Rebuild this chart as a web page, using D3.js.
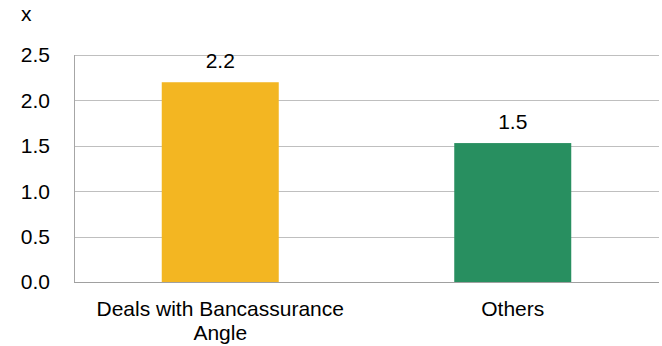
<!DOCTYPE html>
<html>
<head>
<meta charset="utf-8">
<script src="https://cdn.jsdelivr.net/npm/d3@7"></script>
<style>
  body { margin: 0; background: #fff; }
  svg { display: block; font-family: "Liberation Sans", Arial, sans-serif; }
</style>
</head>
<body>
<div id="chart"></div>
<script>
'use strict';

const width = 662;
const height = 346;

// data
const categories = ["Deals with Bancassurance|Angle", "Others"];
const values = [2.2, 1.53];
const valueLabels = ["2.2", "1.5"];
const barColors = ["#F3B622", "#288F60"];
const yTicks = [0, 0.5, 1.0, 1.5, 2.0, 2.5];

const margin = { top: 55, right: 3, bottom: 64, left: 74 };
const fontSize = 21;

const svg = d3.select("#chart")
	.append("svg")
	.attr("width", width)
	.attr("height", height);

const x = d3.scaleBand()
	.domain(categories)
	.range([margin.left, width - margin.right])
	.paddingInner(0.6)
	.paddingOuter(0.3);

const y = d3.scaleLinear()
	.domain([0, 2.5])
	.range([height - margin.bottom, margin.top]);

// gridlines
svg.append("g")
	.selectAll("line")
	.data(yTicks.filter(d => d > 0))
	.enter().append("line")
	.attr("x1", margin.left)
	.attr("x2", width - margin.right)
	.attr("y1", d => Math.round(y(d)) + 0.5)
	.attr("y2", d => Math.round(y(d)) + 0.5)
	.attr("stroke", "#bfbfbf")
	.attr("stroke-width", 1);

// y axis line
svg.append("line")
	.attr("x1", margin.left + 0.5)
	.attr("x2", margin.left + 0.5)
	.attr("y1", Math.round(y(2.5)))
	.attr("y2", Math.round(y(0)) + 1)
	.attr("stroke", "#a6a6a6");

// bars
svg.append("g")
	.selectAll("rect")
	.data(categories)
	.enter().append("rect")
	.attr("x", d => x(d))
	.attr("width", x.bandwidth())
	.attr("y", (d, i) => y(values[i]))
	.attr("height", (d, i) => y(0) - y(values[i]))
	.attr("fill", (d, i) => barColors[i]);

// x axis line
svg.append("line")
	.attr("x1", margin.left)
	.attr("x2", width - margin.right)
	.attr("y1", Math.round(y(0)) + 0.5)
	.attr("y2", Math.round(y(0)) + 0.5)
	.attr("stroke", "#a0a0a0");

// y tick labels
svg.append("g")
	.selectAll("text")
	.data(yTicks)
	.enter().append("text")
	.attr("x", 50)
	.attr("y", d => y(d))
	.attr("dy", "0.35em")
	.attr("text-anchor", "end")
	.attr("font-size", fontSize)
	.attr("fill", "#000")
	.text(d => d.toFixed(1));

// unit label
svg.append("text")
	.attr("x", 21)
	.attr("y", 21)
	.attr("font-size", fontSize)
	.attr("fill", "#000")
	.text("x");

// value labels
svg.append("g")
	.selectAll("text")
	.data(categories)
	.enter().append("text")
	.attr("x", d => x(d) + x.bandwidth() / 2)
	.attr("y", (d, i) => y(values[i]) - 14)
	.attr("text-anchor", "middle")
	.attr("font-size", fontSize)
	.attr("fill", "#000")
	.text((d, i) => valueLabels[i]);

// category labels
const catLabels = svg.append("g")
	.selectAll("text")
	.data(categories)
	.enter().append("text")
	.attr("x", d => x(d) + x.bandwidth() / 2)
	.attr("y", 315.5)
	.attr("text-anchor", "middle")
	.attr("font-size", fontSize)
	.attr("fill", "#000");

catLabels.selectAll("tspan")
	.data(d => d.split("|").map(t => ({ t, cx: x(d) + x.bandwidth() / 2 })))
	.enter().append("tspan")
	.attr("x", d => d.cx)
	.attr("dy", (d, i) => i === 0 ? 0 : 24)
	.text(d => d.t);
</script>
</body>
</html>
